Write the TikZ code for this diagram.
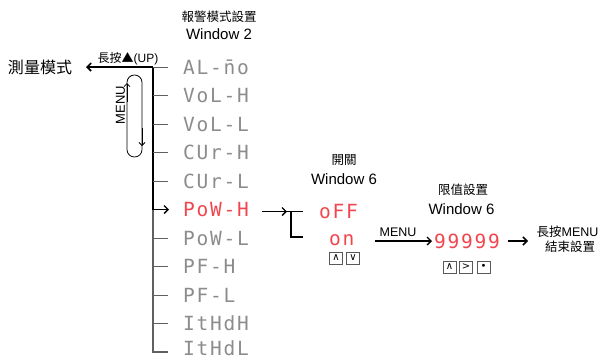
\documentclass[tikz,border=0pt]{standalone}
\usepackage{fontspec}
\setmainfont{Liberation Sans}
\newfontfamily\cjk{Noto Sans CJK TC}
\newfontfamily\seg{DejaVu Sans Mono}[LetterSpace=9]
\newfontfamily\sym{DejaVu Sans}
\usetikzlibrary{arrows.meta}
\definecolor{segred}{HTML}{F2464F}
\definecolor{seggray}{HTML}{8C8C8C}
\definecolor{tickgray}{HTML}{606060}
\tikzset{
  lbl/.style={inner sep=0pt, font=\cjk\fontsize{12.5}{14}\selectfont},
  win/.style={inner sep=0pt, font=\fontsize{15}{17}\selectfont},
  segtxt/.style={inner sep=0pt, anchor=base west, font=\seg\fontsize{19.5}{22}\selectfont, text=seggray},
  segon/.style={segtxt, text=segred},
  barb/.style={-{Straight Barb[length=4pt,width=8pt]}},
  smallbarb/.style={-{Straight Barb[length=3pt,width=6pt]}},
  tickline/.style={draw=tickgray, line width=0.8pt},
  trunk/.style={line width=1.6pt},
  btn/.style={draw=black!65, line width=0.7pt, fill=white, minimum width=13pt, minimum height=12pt, inner sep=0pt, font=\sym\fontsize{10}{10}\selectfont}
}
\begin{document}
\begin{tikzpicture}[x=1pt,y=-1pt]
\useasboundingbox (0,0) rectangle (601,360);
% titles
\node[lbl] (t1) at (219,17) {報警模式設置};
\node[win] (w1) at (219,34.5) {Window 2};
\node[inner sep=0pt, font=\cjk\fontsize{16}{18}\selectfont] (meas) at (40,67) {測量模式};
\node[inner sep=0pt, anchor=base, font=\fontsize{12}{14}\selectfont] (up) at (128,62.5) {{\cjk 長按▲}(UP)};
% menu items
\node[segtxt] (i0) at (183,74) {AL-\=no};
\node[segtxt] (i1) at (183,102.5) {VoL-H};
\node[segtxt] (i2) at (183,131) {VoL-L};
\node[segtxt] (i3) at (183,159.5) {CUr-H};
\node[segtxt] (i4) at (183,188) {CUr-L};
\node[segon]  (i5) at (183,216.5) {PoW-H};
\node[segtxt] (i6) at (183,245) {PoW-L};
\node[segtxt] (i7) at (183,273.5) {PF-H};
\node[segtxt] (i8) at (183,302) {PF-L};
\node[segtxt] (i9) at (183,330.5) {ItHdH};
\node[segtxt] (i10) at (183,355) {ItHdL};
% trunk coordinates
\foreach \k in {0,...,10}{
  \coordinate (c\k) at (153,67+28.5*\k);
  \coordinate (e\k) at (168,67+28.5*\k);
}
\coordinate (mtip) at (86,67);
\draw[trunk] (c0) -- (c5);
\draw[trunk, barb] (c0) -- (mtip);
\draw[line width=1.2pt, draw=tickgray] (c5) -- (c10) -- (e10);
\foreach \k in {0,1,2,3,4,6,7,8,9}{
  \draw[tickline] (c\k) -- (e\k);
}
\coordinate (e5b) at (169,209.5);
\draw[line width=1.3pt, barb] (c5) -- (e5b);
% menu loop
\draw[line width=0.8pt, rounded corners=7.4pt] (127,75) rectangle (142,157);
\coordinate (la) at (127,102);
\coordinate (lb) at (127,83);
\coordinate (ra) at (142,128);
\coordinate (rb) at (142,146);
\draw[line width=0.8pt, smallbarb] (la) -- (lb);
\draw[line width=0.8pt, smallbarb] (ra) -- (rb);
\node[rotate=90, inner sep=0pt, font=\fontsize{13}{15}\selectfont] (menu) at (120.5,105) {MENU};
% bracket
\coordinate (pa) at (262,211.5);
\coordinate (pb) at (287,211.5);
\coordinate (bt) at (303,211.5);
\coordinate (bj) at (291,211.5);
\coordinate (bk) at (291,237);
\coordinate (bb) at (303,237);
\draw[line width=1.4pt, barb] (pa) -- (pb);
\draw[line width=1.8pt] (bt) -- (283,211.5);
\draw[line width=1.8pt] (bj) -- (bk) -- (bb);
% switch window
\node[lbl] (t2) at (344,160) {開關};
\node[win] (w2) at (344,179) {Window 6};
\node[segon] (off) at (319,218) {oFF};
\node[segon] (on) at (329,245) {on};
\node[btn] (bu1) at (336,258) {∧};
\node[btn] (bd1) at (353,258) {∨};
% limit window
\node[inner sep=0pt, font=\fontsize{12.5}{14}\selectfont] (menu2) at (398,232.5) {MENU};
\coordinate (m1) at (375,241);
\coordinate (m2) at (432,241);
\draw[line width=1.3pt, barb] (m1) -- (m2);
\node[lbl] (t3) at (463,190) {限值設置};
\node[win] (w3) at (461.5,209) {Window 6};
\node[segon] (nines) at (434,248) {99999};
\node[btn] (bu2) at (449.5,267) {∧};
\node[btn] (br2) at (466,267) {>};
\node[btn] (bo2) at (483.5,267) {•};
\coordinate (n1) at (508,241);
\coordinate (n2) at (528,241);
\draw[line width=1.5pt, barb] (n1) -- (n2);
\node[inner sep=0pt, font=\fontsize{12.5}{14}\selectfont] (end1) at (567.5,231.5) {{\cjk 長按}MENU};
\node[lbl] (end2) at (570,247) {結束設置};
\end{tikzpicture}
\end{document}
